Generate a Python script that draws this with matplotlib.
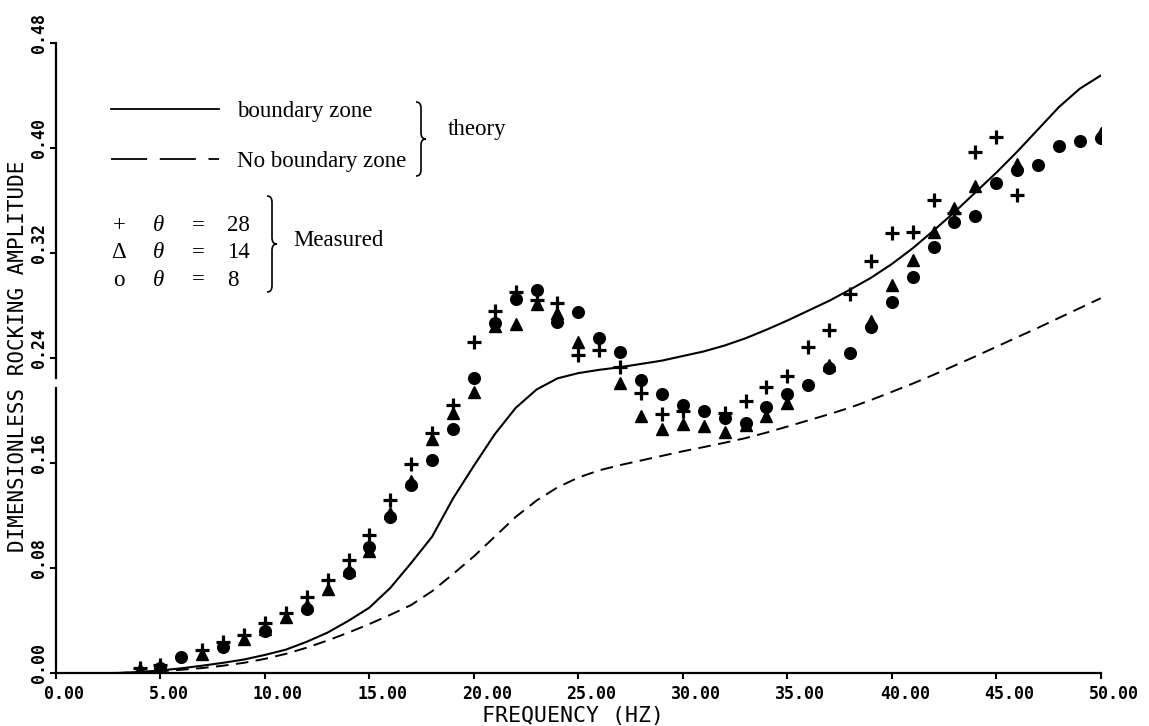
import numpy as np
import matplotlib
matplotlib.use("Agg")
import matplotlib.pyplot as plt
from matplotlib.lines import Line2D
from matplotlib.path import Path
from matplotlib.patches import PathPatch
from matplotlib.transforms import ScaledTranslation

nan = np.nan

# ---------------- data ----------------
freq_theory = [0, 2, 3, 4, 5, 6, 7, 8, 9, 10, 11, 12, 13, 14, 15, 16, 17, 18, 19, 20,
               21, 22, 23, 24, 25, 26, 27, 28, 29, 30, 31, 32, 33, 34, 35, 36, 37, 38,
               39, 40, 41, 42, 43, 44, 45, 46, 47, 48, 49, 50]
boundary_zone = [0, 0, 0.0003, 0.001, 0.0022, 0.0038, 0.0058, 0.008, 0.0105, 0.014,
                 0.018, 0.024, 0.031, 0.040, 0.050, 0.065, 0.084, 0.104, 0.133, 0.158,
                 0.182, 0.202, 0.216, 0.2245, 0.2285, 0.231, 0.233, 0.2355, 0.238, 0.2415,
                 0.245, 0.2495, 0.255, 0.2615, 0.2685, 0.276, 0.2835, 0.292, 0.301, 0.3115,
                 0.3235, 0.337, 0.351, 0.366, 0.381, 0.397, 0.414, 0.431, 0.445, 0.455]
no_boundary_zone = [0, 0, 0.0002, 0.0007, 0.0015, 0.0027, 0.004, 0.0058, 0.008, 0.011,
                    0.0148, 0.0195, 0.025, 0.031, 0.0375, 0.0445, 0.052, 0.0625, 0.0755, 0.089,
                    0.104, 0.119, 0.1315, 0.1415, 0.149, 0.1545, 0.1585, 0.162, 0.1655, 0.169,
                    0.1722, 0.1755, 0.179, 0.1832, 0.1878, 0.1925, 0.1972, 0.2022, 0.208, 0.2142,
                    0.2205, 0.2272, 0.2342, 0.2412, 0.2485, 0.2558, 0.263, 0.2705, 0.278, 0.2855]

freq_measured = list(range(4, 51))
amp_theta28 = [0.004, 0.0065, nan, 0.018, 0.024, 0.029, 0.038, 0.046, 0.058, 0.071,
               0.086, 0.105, 0.132, 0.159, 0.183, 0.204, 0.252, 0.276, 0.290, 0.284,
               0.282, 0.242, 0.246, 0.233, 0.213, 0.197, 0.200, nan, 0.198, 0.207,
               0.218, 0.226, 0.248, 0.261, 0.289, 0.314, 0.335, 0.336, 0.360, 0.350,
               0.397, 0.408, 0.364, nan, nan, nan, nan]
amp_theta14 = [0.003, 0.005, nan, 0.015, nan, 0.026, 0.034, 0.0426, 0.052, 0.064,
               0.079, 0.093, 0.122, 0.146, 0.178, 0.198, 0.214, 0.264, 0.266, 0.281,
               0.274, 0.252, nan, 0.221, 0.196, 0.186, 0.190, 0.188, 0.184, 0.189,
               0.196, 0.2055, nan, 0.235, nan, 0.268, 0.2956, 0.3146, 0.336, 0.354,
               0.371, nan, 0.388, nan, nan, nan, 0.411]
amp_theta8 = [nan, 0.004, 0.0122, nan, 0.0198, nan, 0.0324, nan, 0.0487, nan,
              0.0766, 0.096, 0.119, 0.143, 0.162, 0.186, 0.2245, 0.2664, 0.2847, 0.292,
              0.2676, 0.2748, 0.255, 0.2448, 0.2232, 0.2126, 0.2042, 0.1999, 0.1941, 0.1908,
              0.203, 0.2126, 0.2194, 0.2321, 0.2436, 0.2638, 0.2829, 0.3019, 0.3247, 0.3437,
              0.3483, 0.3734, 0.383, 0.3869, 0.4014, 0.4054, 0.4072]

x_ticks = [0, 5, 10, 15, 20, 25, 30, 35, 40, 45, 50]
x_tick_labels = ["0.00", "5.00", "10.00", "15.00", "20.00", "25.00",
                 "30.00", "35.00", "40.00", "45.00", "50.00"]
y_ticks = [0.0, 0.08, 0.16, 0.24, 0.32, 0.40, 0.48]
y_tick_labels = ["0.00", "0.08", "0.16", "0.24", "0.32", "0.40", "0.48"]

theory_labels = ["boundary zone", "No boundary zone"]
measured_symbols = ["+", "\u0394", "o"]
measured_angles = ["28", "14", "8"]

# ---------------- figure ----------------
W, H = 1149, 726
fig = plt.figure(figsize=(W / 100, H / 100), dpi=100)
plt.rcParams["font.family"] = ["DejaVu Sans Mono"]

ax_left, ax_right, ax_bottom, ax_top = 56, 1100.7, 673.3, 42.7
ax = fig.add_axes([ax_left / W, 1 - ax_bottom / H,
                   (ax_right - ax_left) / W, (ax_bottom - ax_top) / H])

ax.plot(freq_theory, boundary_zone, color="black", lw=1.5, solid_capstyle="round")
ax.plot(freq_theory, no_boundary_zone, color="black", lw=1.4, linestyle=(0, (6.5, 3.8)))

ax.plot(freq_measured, amp_theta8, linestyle="none", marker="o", ms=8.4,
        mfc="black", mec="black")
ax.plot(freq_measured, amp_theta14, linestyle="none", marker="^", ms=8.2,
        mfc="black", mec="black")
ax.plot(freq_measured, amp_theta28, linestyle="none", marker="+", ms=9.5,
        mew=2.3, color="black")

ax.set_xlim(0, 50)
ax.set_ylim(0, 0.48)
for s in ("top", "right"):
    ax.spines[s].set_visible(False)
ax.spines["bottom"].set_linewidth(1.6)
ax.spines["left"].set_visible(False)
# left axis line drawn in two pieces (gap as in the scanned original)
ax.axvline(0, ymin=0, ymax=0.4525, color="black", lw=1.6, clip_on=False)
ax.axvline(0, ymin=0.468, ymax=1.0, color="black", lw=1.6, clip_on=False)

ax.set_xticks(x_ticks)
ax.set_xticklabels(x_tick_labels)
ax.set_yticks(y_ticks)
ax.set_yticklabels(y_tick_labels)
ax.tick_params(axis="x", direction="out", length=4, width=1.5, pad=4.5, labelsize=12)
ax.tick_params(axis="y", direction="out", length=4, width=1.5, pad=2.0, labelsize=12)
for lab in ax.get_xticklabels():
    lab.set_fontweight("bold")
    lab.set_horizontalalignment("left")
    lab.set_transform(lab.get_transform() + ScaledTranslation(-0.12, 0, fig.dpi_scale_trans))
for lab in ax.get_yticklabels():
    lab.set_fontweight("bold")
    lab.set_rotation(90)
    lab.set_verticalalignment("bottom")
    lab.set_horizontalalignment("right")
    lab.set_transform(lab.get_transform() + ScaledTranslation(0, -0.10, fig.dpi_scale_trans))

ax.set_xlabel("FREQUENCY (HZ)", fontsize=15.5, va="center")
ax.xaxis.set_label_coords((573 - ax_left) / (ax_right - ax_left),
                          -(716 - ax_bottom) / (ax_bottom - ax_top))
ax.set_ylabel("DIMENSIONLESS ROCKING AMPLITUDE", fontsize=15, va="center")
ax.yaxis.set_label_coords(-(ax_left - 18.5) / (ax_right - ax_left),
                          (ax_bottom - 356) / (ax_bottom - ax_top))

# ---------------- legend ----------------
serif = "Liberation Serif"
fs = 16.5
handles = [Line2D([], [], color="black", lw=1.3),
           Line2D([], [], color="black", lw=1.3, linestyle=(0, (20, 7)))]
leg = ax.legend(handles, theory_labels, loc="upper left",
                bbox_to_anchor=((111 - ax_left) / (ax_right - ax_left),
                                (ax_bottom - 101) / (ax_bottom - ax_top)),
                frameon=False, prop={"family": serif, "size": fs},
                handlelength=4.7, handletextpad=0.8, labelspacing=1.27,
                borderpad=0, borderaxespad=0)


def fx(px):
    return px / W


def fy(py):
    return 1 - py / H


def brace(x, y_top, y_bot, w, r):
    ym = (y_top + y_bot) / 2
    pts = [(x - w, y_top), (x, y_top), (x, y_top + r),
           (x, ym - r), (x, ym), (x + w, ym),
           (x, ym), (x, ym + r),
           (x, y_bot - r), (x, y_bot), (x - w, y_bot)]
    codes = [Path.MOVETO, Path.CURVE3, Path.CURVE3, Path.LINETO, Path.CURVE3,
             Path.CURVE3, Path.CURVE3, Path.CURVE3, Path.LINETO, Path.CURVE3, Path.CURVE3]
    verts = [(fx(a), fy(b)) for a, b in pts]
    fig.add_artist(PathPatch(Path(verts, codes), transform=fig.transFigure,
                             facecolor="none", edgecolor="black", lw=1.2))


brace(421, 102, 176, 5, 6)
fig.text(fx(448), fy(130), "theory", family=serif, size=fs, va="center", ha="left")

row_y = [226, 253, 280]
for sym, ang, yy in zip(measured_symbols, measured_angles, row_y):
    fig.text(fx(119), fy(yy), sym, family=serif, size=fs, va="center", ha="center")
    fig.text(fx(158), fy(yy), "\u03b8", family=serif, size=fs, style="italic",
             va="center", ha="center")
    fig.text(fx(198.5), fy(yy), "=", family=serif, size=fs, va="center", ha="center")
    fig.text(fx(227), fy(yy), ang, family=serif, size=fs, va="center", ha="left")

brace(272, 196, 292, 5, 6)
fig.text(fx(293), fy(240), "Measured", family=serif, size=fs, va="center", ha="left")

fig.savefig("out.png", dpi=100)
